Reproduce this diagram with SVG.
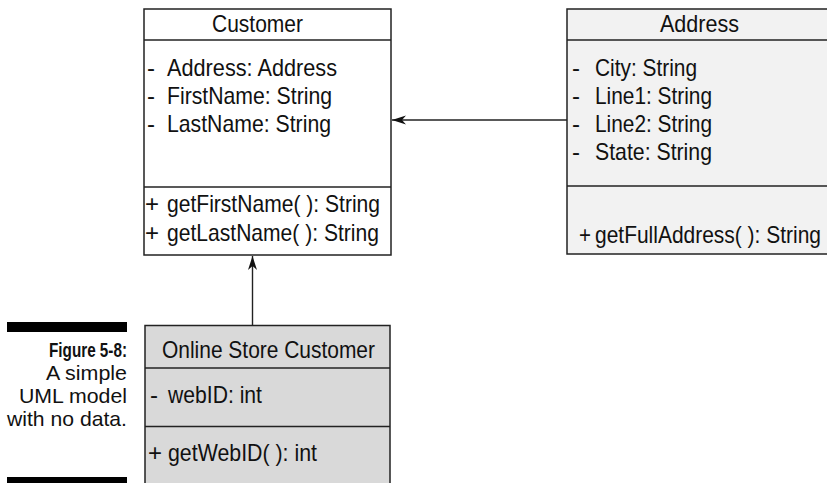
<svg xmlns="http://www.w3.org/2000/svg" width="827" height="483" viewBox="0 0 827 483">
<style>
  text { font-family: "Liberation Sans", Arial, sans-serif; font-size: 24px; fill: #111; }
  .cap { font-size: 21px; text-anchor: end; }
  .capb { font-weight: bold; }
  .box { stroke: #222; stroke-width: 1.5; }
  .div { stroke: #222; stroke-width: 1.5; }
  .conn { stroke: #222; stroke-width: 1.4; fill: none; }
</style>
<defs>
  <marker id="arr" viewBox="0 0 14 10" refX="14" refY="5" markerWidth="14" markerHeight="10" markerUnits="userSpaceOnUse" orient="auto">
    <path d="M14,5 L0,0.5 L4,5 L0,9.5 Z" fill="#111"/>
  </marker>
</defs>
<rect width="827" height="483" fill="#fff"/>

<g id="caption">
  <rect x="7" y="322" width="120" height="10" fill="#000"/>
  <rect x="7" y="477" width="120" height="8" fill="#000"/>
  <text class="cap capb" x="127" y="357" textLength="78" lengthAdjust="spacingAndGlyphs">Figure 5-8:</text>
  <text class="cap" x="127" y="380" textLength="81" lengthAdjust="spacingAndGlyphs">A simple</text>
  <text class="cap" x="127" y="403" textLength="108" lengthAdjust="spacingAndGlyphs">UML model</text>
  <text class="cap" x="127" y="426" textLength="120" lengthAdjust="spacingAndGlyphs">with no data.</text>
</g>

<g id="customer">
  <rect class="box" x="144" y="9" width="247" height="246" fill="#fff"/>
  <line class="div" x1="144" y1="40" x2="391" y2="40"/>
  <line class="div" x1="144" y1="187" x2="391" y2="187"/>
  <text x="212" y="32" textLength="91" lengthAdjust="spacingAndGlyphs">Customer</text>
  <text x="147" y="76">-</text>
  <text x="167" y="76" textLength="170" lengthAdjust="spacingAndGlyphs">Address: Address</text>
  <text x="147" y="104">-</text>
  <text x="167" y="104" textLength="165" lengthAdjust="spacingAndGlyphs">FirstName: String</text>
  <text x="147" y="132">-</text>
  <text x="167" y="132" textLength="164" lengthAdjust="spacingAndGlyphs">LastName: String</text>
  <text x="145" y="212">+</text>
  <text x="167" y="212" textLength="213" lengthAdjust="spacingAndGlyphs">getFirstName( ): String</text>
  <text x="145" y="241">+</text>
  <text x="167" y="241" textLength="212" lengthAdjust="spacingAndGlyphs">getLastName( ): String</text>
</g>

<g id="address">
  <rect class="box" x="567" y="9" width="270" height="245" fill="#f2f2f2"/>
  <line class="div" x1="567" y1="40" x2="827" y2="40"/>
  <line class="div" x1="567" y1="186" x2="827" y2="186"/>
  <text x="660" y="32" textLength="79" lengthAdjust="spacingAndGlyphs">Address</text>
  <text x="572" y="76">-</text>
  <text x="595" y="76" textLength="102" lengthAdjust="spacingAndGlyphs">City: String</text>
  <text x="572" y="104">-</text>
  <text x="595" y="104" textLength="117" lengthAdjust="spacingAndGlyphs">Line1: String</text>
  <text x="572" y="132">-</text>
  <text x="595" y="132" textLength="117" lengthAdjust="spacingAndGlyphs">Line2: String</text>
  <text x="572" y="160">-</text>
  <text x="595" y="160" textLength="117" lengthAdjust="spacingAndGlyphs">State: String</text>
  <text x="579" y="243" textLength="12" lengthAdjust="spacingAndGlyphs">+</text>
  <text x="595" y="243" textLength="226" lengthAdjust="spacingAndGlyphs">getFullAddress( ): String</text>
</g>

<g id="online-store-customer">
  <rect class="box" x="145" y="325.5" width="245" height="170" fill="#d9d9d9"/>
  <line class="div" x1="145" y1="368" x2="390" y2="368"/>
  <line class="div" x1="145" y1="426.5" x2="390" y2="426.5"/>
  <text x="162" y="358" textLength="213" lengthAdjust="spacingAndGlyphs">Online Store Customer</text>
  <text x="150" y="403">-</text>
  <text x="168" y="403" textLength="94" lengthAdjust="spacingAndGlyphs">webID: int</text>
  <text x="148" y="461">+</text>
  <text x="168" y="461" textLength="149" lengthAdjust="spacingAndGlyphs">getWebID( ): int</text>
</g>

<g id="connectors">
  <line class="conn" x1="567" y1="120" x2="392" y2="120" marker-end="url(#arr)"/>
  <line class="conn" x1="252.5" y1="325.5" x2="252.5" y2="256" marker-end="url(#arr)"/>
</g>
</svg>
